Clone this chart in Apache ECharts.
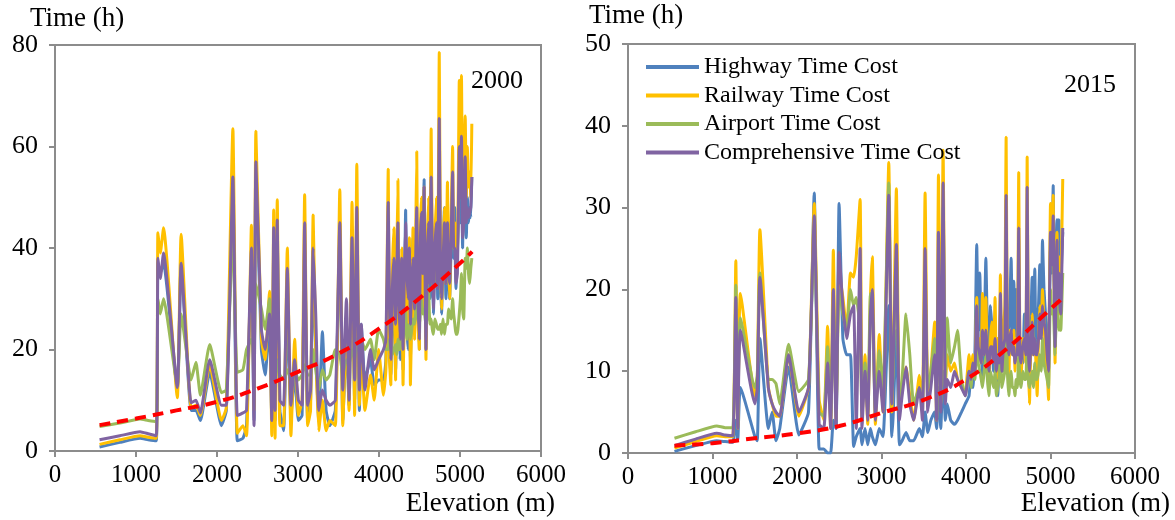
<!DOCTYPE html>
<html>
<head>
    <meta charset="utf-8">
    <title>Time cost vs elevation</title>
    <script src="https://cdn.jsdelivr.net/npm/echarts@6/dist/echarts.min.js"></script>
    <style>
        body { margin: 0; background: #ffffff; }
        #main { width: 1175px; height: 520px; }
    </style>
</head>
<body>
<div id="main"></div>
<script>
// ---- 2000 panel ----
var x2000 = [550, 800, 1050, 1150, 1250, 1270, 1300, 1340, 1510, 1557, 1680, 1740, 1795, 1910, 2055, 2115, 2196, 2250, 2320, 2365,
    2425, 2457, 2480, 2548, 2594, 2648, 2676, 2700, 2717, 2744, 2776, 2822, 2868, 2913, 2959, 3005, 3050, 3082, 3119, 3155,
    3187, 3219, 3256, 3301, 3347, 3393, 3461, 3516, 3553, 3598, 3630, 3667, 3699, 3726, 3758, 3781, 3826, 3895, 3941, 3995,
    4055, 4085, 4114, 4130, 4146, 4165, 4183, 4205, 4220, 4233, 4247, 4260, 4280, 4297, 4313, 4329, 4345, 4361, 4375, 4388,
    4405, 4420, 4440, 4455, 4466, 4482, 4498, 4512, 4525, 4540, 4557, 4570, 4580, 4597, 4612, 4628, 4644, 4658, 4671, 4690,
    4708, 4725, 4744, 4758, 4772, 4790, 4808, 4826, 4845, 4858, 4872, 4890, 4909, 4922, 4936, 4950, 4968, 4980, 4991, 5005,
    5018, 5032, 5046, 5064, 5078, 5091, 5105, 5119, 5133, 5146];
var highway2000 = [0.8, 1.7, 2.5, 2.2, 2.0, 37, 35, 37, 12, 37, 8, 8, 6, 15.5, 5, 8, 50, 2, 2.5, 5,
    38, 6, 55, 20, 15, 25, 6, 40, 6, 43, 8, 4, 27, 7, 15, 6, 7, 40, 6, 10,
    35, 20, 6, 23.5, 8, 5, 8, 42, 6, 22, 9, 38, 10, 40, 8, 25, 14, 18, 13, 14,
    14, 18, 40, 20, 15, 28, 30, 16, 30, 45, 25, 18, 35, 16, 30, 47.5, 25, 20, 35, 18,
    30, 42, 25, 35, 40, 28, 20, 40, 46, 30, 53.5, 30, 20, 35, 48, 30, 52, 35, 27, 38,
    45, 30, 55, 35, 27, 38, 48, 30, 40, 35, 30, 40, 50, 38, 48, 32, 40, 45, 55, 45,
    60, 40, 50, 52, 42, 50, 45, 48, 46, 54];
var railway2000 = [1.3, 2.2, 3.0, 2.7, 2.5, 43, 39, 44, 10.5, 42.7, 8.5, 9, 7, 17, 6, 8.5, 63.5, 3.5, 5, 3,
    44.5, 8, 63, 22, 18, 31.5, 3, 47.5, 2.5, 49.5, 5, 5, 40, 3, 22, 7, 10, 50.5, 5, 8,
    46.5, 20, 4, 10, 4, 6, 5, 51.5, 5, 25, 8, 49, 7, 56.5, 9, 20, 8, 15, 10, 20,
    11, 16, 55.5, 18, 13, 35, 44, 14, 38, 53.5, 20, 30, 40, 13, 28, 40, 30, 25, 42, 13,
    28, 44, 22, 45, 59, 25, 20, 44, 50, 28, 52, 35, 18, 40, 50, 35, 63.5, 40, 30, 42,
    50, 35, 78.5, 40, 28, 40, 48, 33, 53, 38, 30, 45, 60, 40, 45, 35, 38, 55, 73, 55,
    74, 48, 55, 66, 50, 60, 52, 55, 50, 64.5];
var airport2000 = [4.8, 5.5, 6.3, 6.0, 5.8, 30, 27, 30, 13, 27, 14, 17.5, 11, 21, 11.5, 12, 43, 15.5, 16, 20,
    22, 18, 33, 28, 24, 30, 15, 14, 13, 18, 15, 14, 16, 14, 16, 14, 15, 17, 15, 15,
    20, 16, 12, 16, 14, 15, 20, 19, 15, 18, 17, 20, 18, 22, 19, 22, 20, 22, 18, 24,
    22, 20, 20, 22, 22, 19, 20, 21, 19, 22, 20, 20, 23, 22, 24, 28, 22, 24, 25, 22,
    24, 26, 25, 28, 30, 26, 25, 28, 30, 27, 28, 26, 25, 27, 32, 25, 26, 24, 23, 26,
    25, 24, 24, 25, 23, 26, 23, 25, 25, 28, 27, 26, 30, 27, 25, 23, 23, 25, 27, 30,
    35, 28, 26, 38, 36, 40, 35, 33, 36, 38];
var compre2000 = [2.2, 3.0, 3.8, 3.4, 3.0, 38, 34, 39, 12.5, 37, 9.5, 10, 7.5, 18, 9, 9, 54, 7, 7.5, 8,
    40, 5, 57, 24, 20, 27, 6, 44, 8, 45.5, 10, 9, 36, 9, 18, 10, 9, 45, 9, 12,
    40, 27, 8, 12, 10, 9, 10, 45, 12, 30, 10, 42, 14, 48, 12, 25, 12, 20, 16, 18,
    20, 22, 49, 28, 18, 32, 38, 25, 35, 45, 30, 22, 38, 20, 35, 45, 35, 30, 40, 25,
    33, 38, 28, 40, 48, 30, 22, 42, 47, 35, 52, 32, 20, 38, 45, 33, 54, 38, 28, 40,
    45, 32, 65.5, 38, 30, 37, 45, 33, 45, 36, 33, 42, 55, 40, 40, 33, 35, 48, 60, 50,
    62, 42, 45, 58, 45, 48, 46, 47, 48, 54];

// ---- 2015 panel ----
var x2015 = [550, 800, 1050, 1150, 1240, 1276, 1299, 1330, 1502, 1530, 1561, 1661, 1706, 1751, 1796, 1900, 2022, 2136, 2204, 2262,
    2317, 2362, 2398, 2430, 2462, 2498, 2543, 2588, 2633, 2670, 2701, 2747, 2769, 2805, 2837, 2869, 2891, 2928, 2973, 3018,
    3086, 3122, 3140, 3176, 3212, 3244, 3290, 3335, 3380, 3448, 3484, 3516, 3548, 3584, 3629, 3652, 3674, 3701, 3729, 3756,
    3778, 3819, 3864, 3900, 3946, 3991,
    4036, 4060, 4081, 4105, 4127, 4145, 4163, 4180, 4195, 4215, 4235, 4253, 4271, 4290, 4308, 4326, 4344, 4360, 4376, 4392,
    4407, 4425, 4443, 4460, 4475, 4490, 4507, 4520, 4534, 4550, 4566, 4580, 4593, 4608, 4624, 4638, 4652, 4672, 4692, 4708,
    4724, 4738, 4751, 4767, 4783, 4798, 4814, 4828, 4842, 4858, 4873, 4890, 4905, 4923, 4941, 4960, 4977, 4988, 5000, 5016,
    5032, 5043, 5054, 5066, 5077, 5088, 5100, 5111, 5122, 5133, 5145];
var highway2015 = [0.2, 0.9, 1.5, 1.4, 1.3, 4, 1.5, 8, 2, 1.5, 14, 3, 5, 1.5, 3, 10.5, 2.2, 5, 31.8, 0.5,
    0.5, 0, 0, 4, 3, 30.5, 14, 12, 12, 0.8, 2, 3, 1, 3, 1, 3, 2, 1, 3, 2,
    18, 2, 5, 15, 1, 1.5, 2.5, 1.5, 1.5, 3, 2, 5, 2.5, 4, 5, 3, 8, 3, 10, 4,
    6, 4, 3.5, 4, 5, 6,
    7, 10, 8, 12, 25.5, 15, 22, 13, 9, 14, 23.8, 15, 12, 18, 15, 10, 16, 10, 7, 12,
    17, 11, 10, 15, 20, 16, 14, 18, 23.8, 15, 21, 12, 20, 14, 18, 13, 14, 11, 17, 13,
    18, 14, 12, 16, 21.5, 14, 22.5, 13, 15, 18, 23, 16, 26, 20, 17, 14, 11, 18, 25, 22,
    32.7, 22, 18, 24, 28.5, 22, 28.5, 22, 20, 24, 27];
var railway2015 = [0.6, 1.4, 2.1, 2.0, 2.0, 23.5, 3, 19.5, 7, 9, 27.3, 8, 6, 4.5, 4.5, 12, 4.5, 8, 30.5, 6.5,
    4, 15.5, 3, 24.8, 4, 22, 19, 15, 22, 21.5, 24, 31, 4, 12, 3.5, 19, 24, 3.5, 14.5, 5,
    35.5, 5, 12.5, 32.3, 5, 8, 10.5, 7, 4, 9.5, 5, 31.8, 6, 10, 16, 4, 34, 6, 37, 8,
    12, 10, 11, 9, 8, 7.5,
    12, 9, 12, 10, 19, 12, 14, 11, 19.5, 12, 19, 11, 8, 14, 16, 12, 19, 9, 14, 11,
    21.8, 10, 15, 18, 38.6, 12, 9, 15, 14, 12, 15, 10, 14, 12, 34.3, 12, 9, 14, 13, 11,
    36.2, 12, 6, 13, 17, 12, 14, 11, 7, 14, 18, 14, 20, 16, 12, 10, 6.5, 20, 30.5, 24,
    31.5, 20, 11, 20, 27, 18, 24, 17, 20, 26, 33.5];
var airport2015 = [1.8, 2.6, 3.3, 3.1, 3.1, 20.5, 3.5, 16.5, 8, 9.5, 22, 9, 9, 8.5, 6, 13.3, 7.5, 9, 27, 5,
    4.5, 13, 4, 18, 5, 20, 17, 15, 20, 18, 19, 15, 5, 11, 5, 19.5, 18, 5, 12.5, 8,
    33, 7, 11, 24, 6, 9, 17, 12, 6, 8, 6, 20, 8, 10, 14, 6, 20, 7, 30, 9,
    16.5, 11, 13, 15, 9, 7,
    10, 8, 11, 9, 14, 11, 10, 9, 8, 10, 12, 9, 7, 10, 9, 8, 10, 7, 8, 9,
    14, 8, 9, 10, 18, 10, 7, 9, 10, 8, 8, 7, 9, 8, 12, 9, 8, 10, 9, 9,
    14, 9, 8, 9, 10, 8, 11, 9, 9, 10, 12, 10, 14, 11, 10, 9, 8, 14, 20, 17,
    18, 15, 12, 16, 22, 17, 15, 16, 15, 18, 22];
var compre2015 = [0.9, 1.7, 2.4, 2.2, 2.1, 19, 3, 15, 6, 8, 21.5, 8, 6, 5, 4.5, 12, 5, 8, 29, 3.5,
    3, 11, 3, 20, 3, 24.5, 18, 14, 17, 18, 3, 25, 3, 10, 4, 17, 20, 4, 10, 5,
    31.5, 6, 12, 25.5, 4, 7, 10.5, 6, 4, 8, 4, 25, 5, 8, 12, 4, 27, 5, 33, 6,
    9, 8, 10, 9, 8, 7,
    10, 9, 11, 10, 18, 13, 12, 11, 15, 12, 15, 12, 10, 13, 13, 11, 14, 10, 12, 11,
    19.5, 10, 13, 14, 31.5, 14, 12, 14, 15, 12, 13, 11, 12, 12, 27.5, 12, 11, 13, 14, 12,
    32.5, 13, 10, 13, 16, 12, 14, 12, 12, 14, 17, 14, 18, 16, 15, 12, 10, 19, 27, 23,
    29, 20, 13, 20, 26, 19, 22, 18, 17, 22, 27.5];

// fitted trend lines
var trendX = [550, 1000, 1500, 2000, 2500, 3000, 3500, 4000, 4500, 5000, 5150];
var trend2000 = [5.1, 6.4, 8.0, 9.7, 12.3, 15.6, 19.2, 24.1, 30.1, 37, 39.3];
var trend2015 = [0.9, 1.2, 1.8, 2.4, 3.3, 4.9, 6.5, 9.0, 12.9, 17.6, 19];

var names = ['Highway Time Cost', 'Railway Time Cost', 'Airport Time Cost', 'Comprehensive Time Cost'];
var colors = ['#4F81BD', '#FFC000', '#9BBB59', '#8064A2'];

function pairs(xs, ys) {
    return xs.map(function (x, i) { return [x, ys[i]]; });
}

var font = 'Liberation Serif';
var axisGray = '#8C8C8C';

// plain numbers, no thousands separator
function plain(v) { return String(v); }

function makeX(idx) {
    return {
        type: 'value', gridIndex: idx, min: 0, max: 6000, interval: 1000,
        axisLine: { show: true, lineStyle: { color: axisGray, width: 2 } },
        axisTick: { show: true, inside: false, length: 6, lineStyle: { color: axisGray, width: 2 } },
        axisLabel: { color: '#000', fontFamily: font, fontSize: 25, margin: 12, formatter: plain },
        splitLine: { show: false }
    };
}
function makeY(idx, max, step) {
    return {
        type: 'value', gridIndex: idx, min: 0, max: max, interval: step,
        axisLine: { show: true, lineStyle: { color: axisGray, width: 2 } },
        axisTick: { show: true, inside: false, length: 6, lineStyle: { color: axisGray, width: 2 } },
        axisLabel: { color: '#000', fontFamily: font, fontSize: 26, margin: 17, formatter: plain },
        splitLine: { show: false }
    };
}

var panels = [
    { xs: x2000, ys: [highway2000, railway2000, airport2000, compre2000], trend: trend2000 },
    { xs: x2015, ys: [highway2015, railway2015, airport2015, compre2015], trend: trend2015 }
];

var series = [];
panels.forEach(function (p, gi) {
    p.ys.forEach(function (ys, k) {
        series.push({
            name: names[k], type: 'line', xAxisIndex: gi, yAxisIndex: gi,
            data: pairs(p.xs, ys), symbol: 'none', smooth: 0.15,
            lineStyle: { color: colors[k], width: 3 }, itemStyle: { color: colors[k] },
            animation: false, z: 2 + k
        });
    });
    series.push({
        name: 'trend', type: 'line', xAxisIndex: gi, yAxisIndex: gi,
        data: pairs(trendX, p.trend), symbol: 'none', smooth: true,
        lineStyle: { color: '#FF0000', width: 4, type: [11, 7] },
        animation: false, z: 10
    });
});

var chart = echarts.init(document.getElementById('main'), null, { renderer: 'canvas' });
chart.setOption({
    backgroundColor: '#ffffff',
    animation: false,
    grid: [
        { left: 55, top: 45, width: 486, height: 406, show: true, borderColor: axisGray, borderWidth: 2 },
        { left: 628, top: 44, width: 507, height: 409, show: true, borderColor: axisGray, borderWidth: 2 }
    ],
    xAxis: [makeX(0), makeX(1)],
    yAxis: [makeY(0, 80, 20), makeY(1, 50, 10)],
    legend: {
        data: names, orient: 'vertical', left: 641, top: 50,
        itemWidth: 53, itemHeight: 4, itemGap: 4.5, icon: 'rect',
        textStyle: { fontFamily: font, fontSize: 24, color: '#000', lineHeight: 24 }
    },
    graphic: [
        { type: 'text', left: 30, top: 5, style: { text: 'Time (h)', font: '27px "Liberation Serif"', fill: '#000' } },
        { type: 'text', left: 589, top: 2, style: { text: 'Time (h)', font: '27px "Liberation Serif"', fill: '#000' } },
        { type: 'text', right: 1175 - 555, top: 490, style: { text: 'Elevation (m)', font: '27px "Liberation Serif"', fill: '#000' } },
        { type: 'text', right: 5, top: 490, style: { text: 'Elevation (m)', font: '27px "Liberation Serif"', fill: '#000' } },
        { type: 'text', left: 471, top: 68, style: { text: '2000', font: '26px "Liberation Serif"', fill: '#000' } },
        { type: 'text', left: 1064, top: 72, style: { text: '2015', font: '26px "Liberation Serif"', fill: '#000' } }
    ],
    series: series
});
</script>
</body>
</html>
